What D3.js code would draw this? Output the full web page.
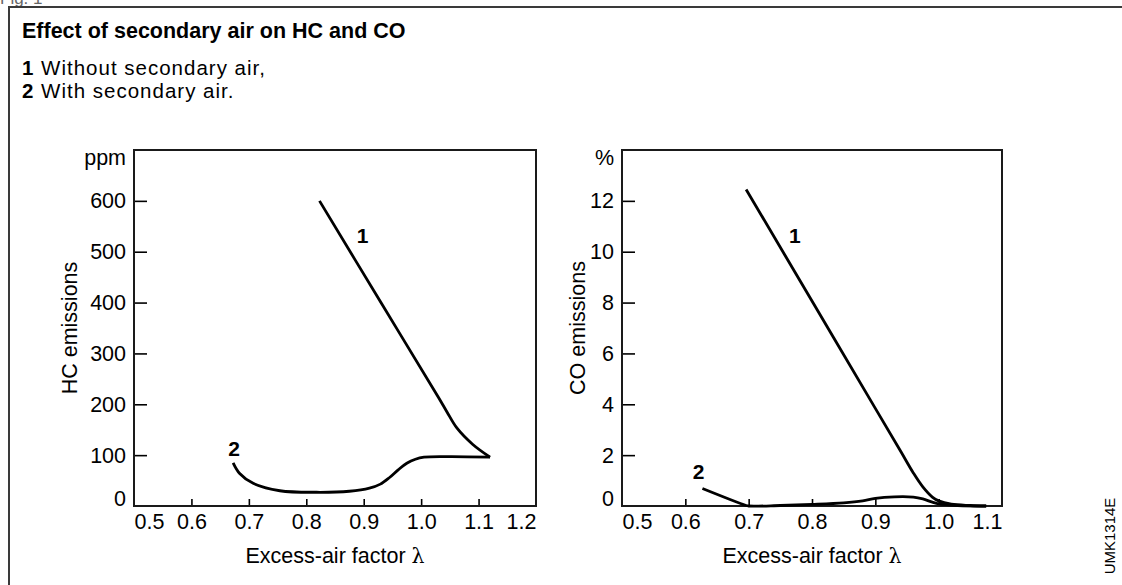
<!DOCTYPE html>
<html>
<head>
<meta charset="utf-8">
<script src="https://cdn.jsdelivr.net/npm/d3@7"></script>
<style>
  html, body { margin: 0; padding: 0; background: #fff; }
  svg { display: block; font-family: "Liberation Sans", Arial, Helvetica, sans-serif; }
</style>
</head>
<body>
<svg id="fig" width="1122" height="585"></svg>
<script>
// ---- data -------------------------------------------------------------
// HC emissions (ppm) versus excess-air factor lambda
const hcLambda1 = [0.823, 0.93, 1.03, 1.045, 1.0625, 1.09, 1.12];
const hcValues1 = [600, 400, 214, 185, 153, 121, 96];
const hcLambda2 = [0.6726, 0.684, 0.7075, 0.754, 0.818, 0.875, 0.91, 0.929, 0.945, 0.96, 0.975, 0.99, 1.005, 1.05, 1.12];
const hcValues2 = [85, 64, 44.6, 30, 27, 29, 35, 43, 56, 71, 84, 92, 96, 97, 96];

// CO emissions (%) versus excess-air factor lambda
const coLambda1 = [0.696, 0.80, 0.90, 0.94, 0.96, 0.975, 0.99, 1.00, 1.02, 1.05, 1.075];
const coValues1 = [12.45, 8.06, 3.84, 2.15, 1.3, 0.75, 0.35, 0.2, 0.07, 0.02, 0];
const coLambda2 = [0.627, 0.695, 0.70, 0.75, 0.80, 0.85, 0.88, 0.90, 0.93, 0.96, 0.975, 0.99, 1.00, 1.03, 1.075];
const coValues2 = [0.69, 0.03, 0.0, 0.02, 0.06, 0.12, 0.2, 0.3, 0.36, 0.35, 0.28, 0.15, 0.08, 0.02, 0];

// axis ticks and labels
const hcXTicks = [0.5, 0.6, 0.7, 0.8, 0.9, 1.0, 1.1, 1.2];
const hcYTicks = [0, 100, 200, 300, 400, 500, 600];
const coXTicks = [0.5, 0.6, 0.7, 0.8, 0.9, 1.0, 1.1];
const coYTicks = [0, 2, 4, 6, 8, 10, 12];

const titleText = "Effect of secondary air on HC and CO";
const legendNumbers = ["1", "2"];
const legendTexts = [" Without secondary air,", " With secondary air."];

// ---- drawing ------------------------------------------------------------
const svg = d3.select("#fig");
const FS = 21.5;

// caption fragment and frame
svg.append("text").attr("x", 0).attr("y", 4).attr("font-size", 17).attr("fill", "#666").text("Fig. 1");
svg.append("path")
  .attr("d", "M9,600 L9,7 L1122,7")
  .attr("fill", "none").attr("stroke", "#3a3a3a").attr("stroke-width", 2);

svg.append("text").attr("x", 22).attr("y", 38)
  .attr("font-size", 21.5).attr("font-weight", "bold").text(titleText);

legendNumbers.forEach((n, i) => {
  const t = svg.append("text").attr("x", 22).attr("y", 75 + i * 23)
    .attr("font-size", 20.5).attr("letter-spacing", 1);
  t.append("tspan").attr("font-weight", "bold").text(n);
  t.append("tspan").text(legendTexts[i]);
});

svg.append("text")
  .attr("transform", "translate(1115,536) rotate(-90)")
  .attr("text-anchor", "middle").attr("font-size", 15).text("UMK1314E");

function panel(opts) {
  const { left, right, top, bottom, xDomain, yDomain, xTicks, yTicks, unit, yTitle, series, labels } = opts;
  const x = d3.scaleLinear().domain(xDomain).range([left, right]);
  const y = d3.scaleLinear().domain(yDomain).range([bottom, top]);
  const g = svg.append("g");

  // y axis, ticks pointing inward
  const ya = g.append("g").attr("transform", `translate(${left},0)`)
    .call(d3.axisLeft(y).tickValues(yTicks).tickSize(-13).tickPadding(8).tickFormat(d3.format("d")));
  ya.select(".domain").remove();
  ya.selectAll("line").attr("stroke", "#000").attr("stroke-width", 1.6);
  ya.selectAll("text").attr("font-size", FS).attr("fill", "#000").attr("font-family", null);
  ya.selectAll(".tick").filter(d => d === yTicks[0]).select("text").attr("dy", "-0.02em");
  ya.selectAll(".tick").filter(d => d === yTicks[0]).select("line").remove();

  // x axis, ticks pointing inward
  const xa = g.append("g").attr("transform", `translate(0,${bottom})`)
    .call(d3.axisBottom(x).tickValues(xTicks).tickSize(-7).tickPadding(8).tickFormat(d3.format(".1f")));
  xa.select(".domain").remove();
  xa.selectAll("line").attr("stroke", "#000").attr("stroke-width", 1.6);
  xa.selectAll("text").attr("font-size", FS).attr("fill", "#000").attr("font-family", null);
  const first = xTicks[0], last = xTicks[xTicks.length - 1];
  xa.selectAll(".tick").filter(d => d === first || d === last).select("line").remove();
  xa.selectAll(".tick").filter(d => d === first).select("text").attr("text-anchor", "start");
  xa.selectAll(".tick").filter(d => d === last).select("text").attr("text-anchor", "end");

  // plot box
  g.append("rect").attr("x", left).attr("y", top).attr("width", right - left).attr("height", bottom - top)
    .attr("fill", "none").attr("stroke", "#1a1a1a").attr("stroke-width", 2);

  // unit label above the y tick labels
  g.append("text").attr("x", left - 8).attr("y", top + 15).attr("text-anchor", "end")
    .attr("font-size", FS).text(unit);

  // axis titles
  g.append("text")
    .attr("transform", `translate(${opts.yTitleX},${(top + bottom) / 2}) rotate(-90)`)
    .attr("text-anchor", "middle").attr("font-size", FS).text(yTitle);
  const xt = g.append("text").attr("x", (left + right) / 2).attr("y", 563)
    .attr("text-anchor", "middle").attr("font-size", FS);
  xt.append("tspan").text("Excess-air factor ");
  xt.append("tspan").attr("font-family", "'DejaVu Serif', serif").attr("font-size", FS - 1).text("λ");

  // curves
  const line = d3.line().x(d => x(d[0])).y(d => y(d[1])).curve(d3.curveCatmullRom.alpha(0.5));
  series.forEach(s => {
    g.append("path").datum(d3.zip(s.lambda, s.values)).attr("d", line)
      .attr("fill", "none").attr("stroke", "#000").attr("stroke-width", 2.8)
      .attr("stroke-linejoin", "round");
  });

  // curve numbers
  labels.forEach(l => {
    g.append("text").attr("x", x(l.lambda)).attr("y", y(l.value)).attr("text-anchor", "middle")
      .attr("font-size", 21).attr("font-weight", "bold").text(l.text);
  });
}

panel({
  left: 134, right: 536, top: 150, bottom: 506,
  xDomain: [0.5, 1.2], yDomain: [0, 700],
  xTicks: hcXTicks, yTicks: hcYTicks, unit: "ppm",
  yTitle: "HC emissions", yTitleX: 77,
  series: [{ lambda: hcLambda1, values: hcValues1 }, { lambda: hcLambda2, values: hcValues2 }],
  labels: [{ text: "1", lambda: 0.898, value: 517 }, { text: "2", lambda: 0.6745, value: 98 }]
});

panel({
  left: 622, right: 1002, top: 150, bottom: 506,
  xDomain: [0.5, 1.1], yDomain: [0, 14],
  xTicks: coXTicks, yTicks: coYTicks, unit: "%",
  yTitle: "CO emissions", yTitleX: 585,
  series: [{ lambda: coLambda1, values: coValues1 }, { lambda: coLambda2, values: coValues2 }],
  labels: [{ text: "1", lambda: 0.773, value: 10.34 }, { text: "2", lambda: 0.6208, value: 1.06 }]
});
</script>
</body>
</html>
